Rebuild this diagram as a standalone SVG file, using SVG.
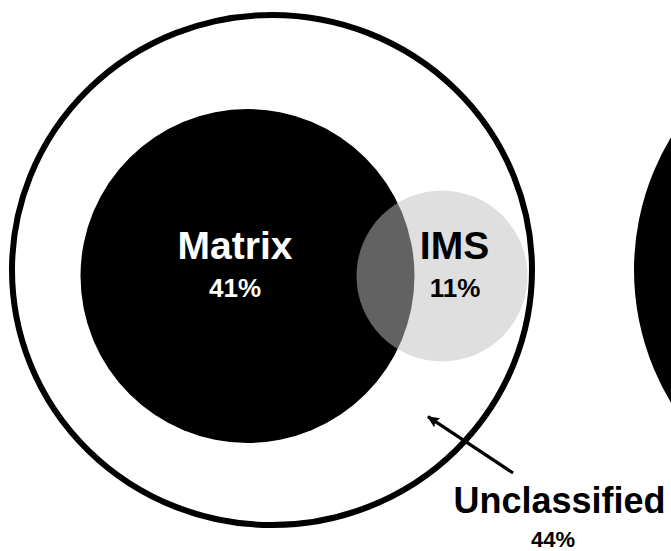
<svg xmlns="http://www.w3.org/2000/svg" width="671" height="551" viewBox="0 0 671 551">
  <defs>
    <style>
      .lbl { font-family: "Liberation Sans", Arial, sans-serif; font-weight: bold; text-anchor: middle; }
      .big { font-size: 39px; }
      .pct { font-size: 26px; }
    </style>
    <marker id="ah" viewBox="0 0 12 11" refX="11" refY="5.5" markerWidth="12" markerHeight="11" markerUnits="userSpaceOnUse" orient="auto">
      <path d="M0,0 L12,5.5 L0,11 L2,5.5 Z" fill="#000"/>
    </marker>
  </defs>
  <rect width="671" height="551" fill="#fff"/>
  <g id="other-circle">
    <ellipse cx="894" cy="270" rx="260" ry="258" fill="#000"/>
  </g>
  <g id="unclassified">
    <ellipse cx="272" cy="270" rx="260" ry="255" fill="none" stroke="#000" stroke-width="6"/>
  </g>
  <g id="matrix">
    <circle cx="247.5" cy="276" r="167" fill="#000"/>
  </g>
  <g id="ims">
    <circle cx="442" cy="276" r="85.5" fill="#c0c0c0" fill-opacity="0.51"/>
  </g>
  <g id="connectors">
    <line x1="513" y1="473" x2="428" y2="416.7" stroke="#000" stroke-width="3.2" marker-end="url(#ah)"/>
  </g>
  <g id="labels">
    <text class="lbl big" x="235" y="259" fill="#fff">Matrix</text>
    <text class="lbl pct" x="235" y="296.5" fill="#fff">41%</text>
    <text class="lbl big" x="454.5" y="259" fill="#000">IMS</text>
    <text class="lbl pct" x="455" y="296.5" fill="#000">11%</text>
    <text class="lbl" x="559.5" y="512.5" font-size="36" fill="#000">Unclassified</text>
    <text class="lbl" x="553" y="546.5" font-size="22" fill="#000">44%</text>
  </g>
</svg>
